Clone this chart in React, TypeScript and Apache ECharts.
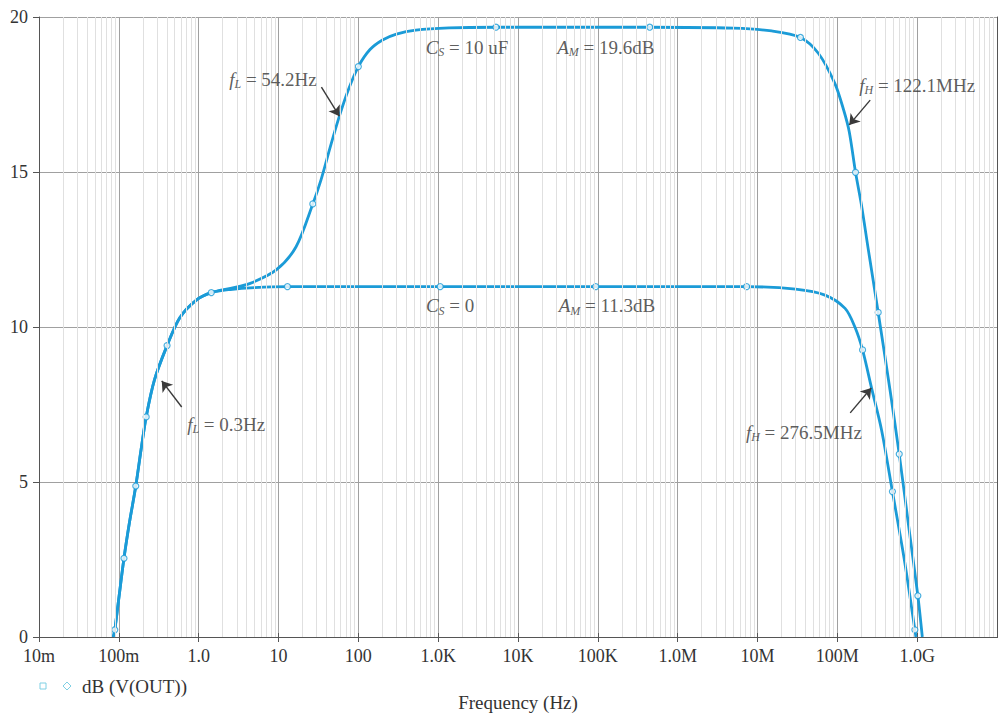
import React, { useEffect, useRef } from 'react';
import * as echarts from 'echarts';

// ---------- data ----------
const tickLabels = ['10m', '100m', '1.0', '10', '100', '1.0K', '10K', '100K', '1.0M', '10M', '100M', '1.0G', '10G'];
const yTickValues = [0, 5, 10, 15, 20];

// C_S = 10 uF trace  [frequency (Hz), dB]
const curveCs10uF: [number, number][] = [
  [0.085, 0], [0.089, 0.23], [0.1, 1.25], [0.116, 2.54], [0.135, 3.65], [0.163, 4.87], [0.19, 6.05],
  [0.22, 7.1], [0.28, 8.3], [0.402, 9.4], [0.58, 10.3], [0.935, 10.87], [1.44, 11.11], [2.5, 11.25],
  [4.34, 11.4], [9.36, 11.84], [16.6, 12.59], [26.9, 13.97], [34, 14.74], [45, 15.85], [57.9, 16.8],
  [75, 17.65], [100, 18.4], [140, 18.95], [201, 19.26], [300, 19.45], [525, 19.58], [1370, 19.65],
  [5300, 19.67], [447e3, 19.67], [5e6, 19.64], [15e6, 19.55], [34.5e6, 19.34], [57.8e6, 18.83],
  [93e6, 17.86], [120e6, 17.0], [141e6, 16.3], [169e6, 14.99], [200e6, 13.95], [245e6, 12.48],
  [325e6, 10.47], [457e6, 7.97], [596e6, 5.9], [794e6, 3.45], [1.02e9, 1.33], [1.16e9, 0],
];

// C_S = 0 trace
const curveCs0: [number, number][] = [
  [0.085, 0], [0.089, 0.23], [0.1, 1.25], [0.116, 2.54], [0.135, 3.65], [0.163, 4.87], [0.19, 6.05],
  [0.22, 7.1], [0.28, 8.3], [0.402, 9.4], [0.58, 10.3], [0.935, 10.87], [1.44, 11.11], [2.5, 11.21],
  [5, 11.27], [12.95, 11.3], [1060, 11.3], [94e3, 11.3], [7.3e6, 11.3], [30e6, 11.22], [70e6, 11.03],
  [125e6, 10.6], [166e6, 10.0], [207e6, 9.26], [269e6, 8.02], [358e6, 6.68], [490e6, 4.69],
  [702e6, 2.38], [936e6, 0.23], [965e6, 0],
];

const markersCs10uF: [number, number][] = [
  [26.9, 13.97], [100, 18.4], [5300, 19.67], [447e3, 19.67], [34.5e6, 19.34], [169e6, 14.99],
  [325e6, 10.47], [596e6, 5.9], [1.02e9, 1.33],
];
const markersCs0: [number, number][] = [
  [0.089, 0.23], [0.116, 2.54], [0.163, 4.87], [0.22, 7.1], [0.402, 9.4], [1.44, 11.11], [12.95, 11.3],
  [1060, 11.3], [94e3, 11.3], [7.3e6, 11.3], [207e6, 9.26], [490e6, 4.69], [936e6, 0.23],
];

// annotation texts: [style, text] parts, anchored at (frequency, dB)
const annotationTexts: [string, string][][] = [
  [['i', 'f'], ['s', 'L'], ['n', ' = 54.2Hz']],
  [['i', 'C'], ['s', 'S'], ['n', ' = 10 uF']],
  [['i', 'A'], ['s', 'M'], ['n', ' = 19.6dB']],
  [['i', 'f'], ['s', 'H'], ['n', ' = 122.1MHz']],
  [['i', 'C'], ['s', 'S'], ['n', ' = 0']],
  [['i', 'A'], ['s', 'M'], ['n', ' = 11.3dB']],
  [['i', 'f'], ['s', 'L'], ['n', ' = 0.3Hz']],
  [['i', 'f'], ['s', 'H'], ['n', ' = 276.5MHz']],
];
const annotationAnchors: [number, number][] = [
  [8.53, 18.0], [2300, 19.03], [126e3, 19.03], [1.0e9, 17.8],
  [1410, 10.68], [130e3, 10.68], [2.21, 6.87], [38.1e6, 6.61],
];
// arrows: from -> to (frequency, dB)
const arrowsFrom: [number, number][] = [[34.5, 17.74], [258e6, 17.32], [0.613, 7.42], [145e6, 7.23]];
const arrowsTo: [number, number][] = [[57.9, 16.8], [141e6, 16.52], [0.345, 8.26], [266e6, 8.03]];

const legendText = 'dB (V(OUT))';
const xAxisTitle = 'Frequency (Hz)';

// ---------- styles ----------
const COLOR = '#1b9bd7';
const SERIF = "'Liberation Serif', 'DejaVu Serif', serif";
const TEXT = '#333';

export default function App() {
  const ref = useRef<HTMLDivElement>(null);

  useEffect(() => {
    if (!ref.current) return;
    const chart = echarts.init(ref.current, undefined, { renderer: 'svg' });

    const minorGrid: number[] = [];
    for (let k = -2; k < 10; k++) for (let m = 2; m <= 9; m++) minorGrid.push(m * Math.pow(10, k));

    const xLabel = (v: number) => {
      const e = Math.round(Math.log10(v));
      return tickLabels[e + 2] ?? '';
    };

    const richText = (parts: [string, string][]) => parts.map(([s, t]) => `{${s}|${t}}`).join('');

    const baseX = {
      type: 'log' as const,
      logBase: 10,
      min: 0.01,
      max: 1e10,
      interval: 1,
      gridIndex: 0,
    };

    chart.setOption({
      animation: false,
      backgroundColor: '#fff',
      grid: {
        left: 39,
        top: 17,
        width: 958,
        height: 620,
        containLabel: false,
        outerBoundsMode: 'none',
      },
      xAxis: [
        {
          ...baseX,
          position: 'bottom',
          axisLine: { show: true, lineStyle: { color: '#555', width: 1 } },
          axisTick: { show: true, length: 5, lineStyle: { color: '#555' } },
          axisLabel: {
            formatter: xLabel,
            fontFamily: SERIF,
            fontSize: 18,
            color: TEXT,
            margin: 10,
            showMaxLabel: false,
          },
          splitLine: { show: true, lineStyle: { color: '#a0a0a0', width: 1 } },
          name: xAxisTitle,
          nameLocation: 'middle',
          nameGap: 56,
          nameTextStyle: { fontFamily: SERIF, fontSize: 19, color: TEXT },
        },
        {
          ...baseX,
          position: 'top',
          axisLine: { show: true, lineStyle: { color: '#555', width: 1 } },
          axisTick: { show: true, length: 4, lineStyle: { color: '#555' } },
          axisLabel: { show: false },
          splitLine: { show: false },
        },
      ],
      yAxis: [
        {
          type: 'value',
          min: 0,
          max: 20,
          interval: 5,
          position: 'left',
          axisLine: { show: true, lineStyle: { color: '#555', width: 1 } },
          axisTick: { show: true, length: 6, lineStyle: { color: '#555' } },
          axisLabel: {
            fontFamily: SERIF,
            fontSize: 18,
            color: TEXT,
            margin: 11,
            formatter: (v: number) => (yTickValues.includes(v) ? String(v) : ''),
          },
          splitLine: { show: true, lineStyle: { color: '#a0a0a0', width: 1 } },
        },
        {
          type: 'value',
          min: 0,
          max: 20,
          interval: 5,
          position: 'right',
          axisLine: { show: true, lineStyle: { color: '#555', width: 1 } },
          axisTick: { show: true, length: 4, lineStyle: { color: '#555' } },
          axisLabel: { show: false },
          splitLine: { show: false },
        },
      ],
      series: [
        {
          type: 'scatter',
          data: [],
          silent: true,
          z: 1,
          markLine: {
            silent: true,
            symbol: ['none', 'none'],
            label: { show: false },
            lineStyle: { color: '#e0e0e0', width: 1, type: 'solid' },
            emphasis: { disabled: true },
            data: minorGrid.map((v) => ({ xAxis: v })),
          },
        },
        {
          type: 'line',
          name: 'C_S = 10 uF',
          data: curveCs10uF,
          smooth: 0.3,
          showSymbol: false,
          symbol: 'none',
          lineStyle: { color: COLOR, width: 2.8 },
          z: 3,
        },
        {
          type: 'line',
          name: 'C_S = 0',
          data: curveCs0,
          smooth: 0.3,
          showSymbol: false,
          symbol: 'none',
          lineStyle: { color: COLOR, width: 2.8 },
          z: 3,
        },
        {
          type: 'scatter',
          data: [...markersCs10uF, ...markersCs0],
          symbol: 'circle',
          symbolSize: 6,
          itemStyle: { color: '#fff', borderColor: COLOR, borderWidth: 1.2 },
          z: 4,
          silent: true,
        },
        {
          type: 'scatter',
          silent: true,
          z: 5,
          symbolSize: 0,
          itemStyle: { color: 'rgba(0,0,0,0)' },
          data: annotationAnchors.map((a, i) => ({ value: a, txt: richText(annotationTexts[i]) })),
          label: {
            show: true,
            position: 'inside',
            formatter: (p: any) => p.data.txt,
            rich: {
              i: { fontFamily: SERIF, fontStyle: 'italic', fontSize: 19, color: TEXT, lineHeight: 22 },
              s: {
                fontFamily: SERIF,
                fontStyle: 'italic',
                fontSize: 12,
                color: TEXT,
                lineHeight: 12,
                verticalAlign: 'bottom',
              },
              n: { fontFamily: SERIF, fontSize: 19, color: TEXT, lineHeight: 22 },
            },
          },
          markLine: {
            silent: true,
            symbol: ['none', 'arrow'],
            symbolSize: 10,
            label: { show: false },
            lineStyle: { color: '#3a3a3a', width: 1.4, type: 'solid' },
            data: arrowsFrom.map((f, i) => [{ coord: f }, { coord: arrowsTo[i] }]),
          },
        },
      ],
      graphic: [
        {
          type: 'rect',
          shape: { x: 40, y: 683, width: 6, height: 6 },
          style: { fill: 'none', stroke: '#7fd0e4', lineWidth: 1 },
        },
        {
          type: 'polygon',
          shape: { points: [[67, 682], [71, 686], [67, 690], [63, 686]] },
          style: { fill: 'none', stroke: '#7fd0e4', lineWidth: 1 },
        },
        {
          type: 'text',
          x: 82,
          y: 686,
          style: { text: legendText, font: `19px ${SERIF}`, fill: TEXT, verticalAlign: 'middle' },
        },
      ],
    });

    return () => chart.dispose();
  }, []);

  return (
    <div
      ref={ref}
      style={{ position: 'fixed', left: 0, top: 0, width: 998, height: 714, background: '#fff' }}
    />
  );
}
